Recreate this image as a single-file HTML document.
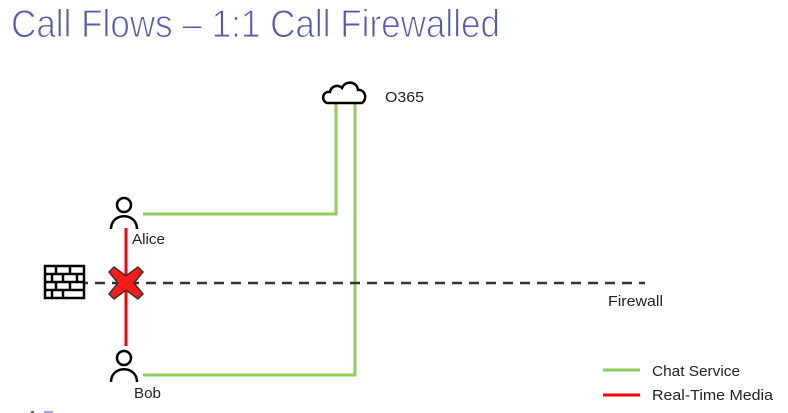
<!DOCTYPE html>
<html><head><style>
html,body{margin:0;padding:0;background:#fff;}
svg{display:block}
text{font-family:"Liberation Sans",sans-serif;}
</style></head><body>
<svg width="788" height="413" viewBox="0 0 788 413" xmlns="http://www.w3.org/2000/svg">
<rect width="788" height="413" fill="#fff"/>
<text x="11" y="37" font-size="39" fill="#5359b5" stroke="#fff" stroke-width="1.1" paint-order="normal" textLength="489" lengthAdjust="spacingAndGlyphs">Call Flows – 1:1 Call Firewalled</text>
<g stroke="#8fce5a" stroke-width="3" fill="none">
<polyline points="143,214 336,214 336,102"/>
<polyline points="143,375 355,375 355,102"/>
<line x1="603" y1="370" x2="640" y2="370"/>
</g>
<line x1="126" y1="228" x2="126" y2="346" stroke="#ff0000" stroke-width="3"/>
<line x1="603" y1="395" x2="640" y2="395" stroke="#ff0000" stroke-width="3"/>
<line x1="78" y1="283" x2="645" y2="283" stroke="#333" stroke-width="2.5" stroke-dasharray="10,7"/>
<path d="M327,103 C321,101 322,91 330,92 C331,86 338,84 342,88 C345,80 357,81 358,90 C365,89 368,99 362,103 Z" fill="#fff" stroke="#000" stroke-width="2.5"/>
<text x="385" y="102" font-size="15" fill="#222" textLength="39" lengthAdjust="spacingAndGlyphs">O365</text>
<g stroke="#000" stroke-width="2.5" fill="#fff">
<rect x="45" y="266" width="39" height="32"/>
<line x1="45" y1="274" x2="84" y2="274"/>
<line x1="45" y1="282" x2="84" y2="282"/>
<line x1="45" y1="290" x2="84" y2="290"/>
<line x1="56" y1="266" x2="56" y2="274"/><line x1="70" y1="266" x2="70" y2="274"/>
<line x1="63" y1="274" x2="63" y2="282"/><line x1="77" y1="274" x2="77" y2="282"/><line x1="52" y1="274" x2="52" y2="282"/>
<line x1="56" y1="282" x2="56" y2="290"/><line x1="70" y1="282" x2="70" y2="290"/>
<line x1="63" y1="290" x2="63" y2="298"/><line x1="52" y1="290" x2="52" y2="298"/>
</g>
<path d="M126,283 m-12,-16 l12,9 l12,-9 l5,5 l-9,11 l9,11 l-5,5 l-12,-9 l-12,9 l-5,-5 l9,-11 l-9,-11 z" fill="#ff1a1a" stroke="#333" stroke-width="1.5" stroke-linejoin="round"/>
<g stroke="#000" stroke-width="2.5" fill="none">
<circle cx="124" cy="205" r="7"/>
<path d="M111,229 C111,212 137,212 137,229"/>
<circle cx="124" cy="358" r="7"/>
<path d="M111,382 C111,365 137,365 137,382"/>
</g>
<text x="132" y="244" font-size="15" fill="#222" textLength="33" lengthAdjust="spacingAndGlyphs">Alice</text>
<text x="134" y="398" font-size="15" fill="#222" textLength="27" lengthAdjust="spacingAndGlyphs">Bob</text>
<text x="608" y="306" font-size="15" fill="#222" textLength="55" lengthAdjust="spacingAndGlyphs">Firewall</text>
<text x="652" y="376" font-size="15" fill="#222" textLength="88" lengthAdjust="spacingAndGlyphs">Chat Service</text>
<text x="652" y="400" font-size="15" fill="#222" textLength="121" lengthAdjust="spacingAndGlyphs">Real-Time Media</text>
<rect x="31" y="411" width="3" height="2" fill="#5a5fb8"/>
<rect x="44" y="411" width="9" height="2" fill="#9ea2dd"/>
</svg>
</body></html>
